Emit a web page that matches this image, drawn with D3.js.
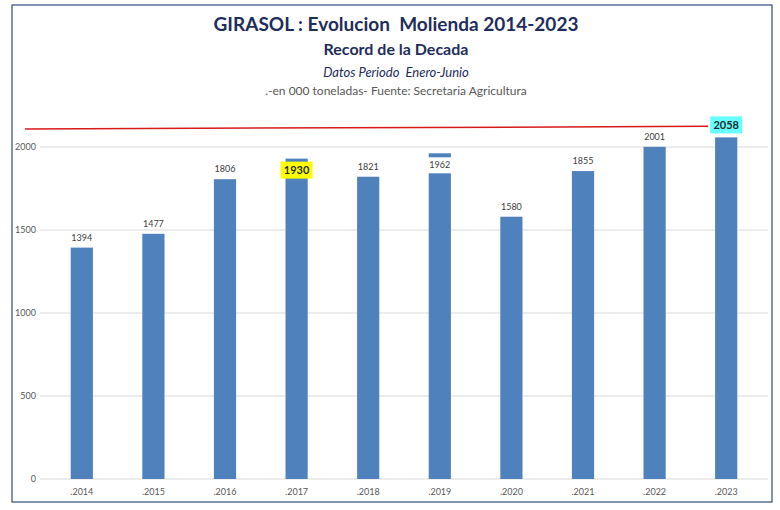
<!DOCTYPE html>
<html>
<head>
<meta charset="utf-8">
<script src="https://cdn.jsdelivr.net/npm/d3@7"></script>
<style>
  body { margin: 0; background: #fff; }
  text { font-family: Lato, "Open Sans", sans-serif; white-space: pre; }
</style>
</head>
<body>
<div id="chart"></div>
<script>
// GIRASOL molienda chart

// data
const years = [".2014", ".2015", ".2016", ".2017", ".2018", ".2019", ".2020", ".2021", ".2022", ".2023"];
const molienda = [1394, 1477, 1806, 1930, 1821, 1962, 1580, 1855, 2001, 2058];
const yTicks = [0, 500, 1000, 1500, 2000];
// label highlight per year (null = plain label)
const labelFill = [null, null, null, "#ffff00", null, "#ffffff", null, null, null, "#66ffff"];

const W = 780, H = 510;
const margin = { top: 147, bottom: 30, left: 46, right: 16 };
const width = W - margin.left - margin.right;
const height = H - margin.top - margin.bottom;

const svg = d3.select("#chart").append("svg")
  .attr("width", W)
  .attr("height", H);

// frame
svg.append("rect")
  .attr("x", 12).attr("y", 5)
  .attr("width", 760).attr("height", 497)
  .attr("fill", "none")
  .attr("stroke", "#2f4b7c")
  .attr("stroke-width", 1.2);

// titles
const titles = [
  { t: "GIRASOL : Evolucion  Molienda 2014-2023", y: 31, size: 19, weight: "bold", style: "normal", color: "#1f2d5c" },
  { t: "Record de la Decada", y: 55, size: 16, weight: "bold", style: "normal", color: "#1f2d5c" },
  { t: "Datos Periodo  Enero-Junio", y: 77, size: 13, weight: "normal", style: "italic", color: "#1f2d5c" },
  { t: ".-en 000 toneladas- Fuente: Secretaria Agricultura", y: 95, size: 12, weight: "normal", style: "normal", color: "#595959" }
];
svg.selectAll(".title").data(titles).join("text")
  .attr("class", "title")
  .attr("x", 396)
  .attr("y", d => d.y)
  .attr("text-anchor", "middle")
  .attr("font-size", d => d.size)
  .attr("font-weight", d => d.weight)
  .attr("font-style", d => d.style)
  .attr("fill", d => d.color)
  .text(d => d.t);

const g = svg.append("g")
  .attr("transform", `translate(${margin.left},${margin.top})`);

const x = d3.scaleBand().domain(years).range([0, width - 2]).paddingInner(0.69).paddingOuter(0.345);
const y = d3.scaleLinear().domain([0, 2000]).range([height - 1, 0]);

// gridlines
g.append("g").selectAll("line").data(yTicks).join("line")
  .attr("x1", -6).attr("x2", width + 4)
  .attr("y1", d => y(d)).attr("y2", d => y(d))
  .attr("stroke", "#d9d9d9")
  .attr("stroke-width", 1);

// y axis labels
g.append("g").selectAll("text").data(yTicks).join("text")
  .attr("x", -10)
  .attr("y", d => y(d))
  .attr("dy", "0.35em")
  .attr("text-anchor", "end")
  .attr("font-size", 9)
  .attr("fill", "#595959")
  .text(d => d);

// x axis labels
g.append("g").selectAll("text").data(years).join("text")
  .attr("x", d => x(d) + x.bandwidth() / 2)
  .attr("y", y(0) + 16)
  .attr("text-anchor", "middle")
  .attr("font-size", 9)
  .attr("fill", "#595959")
  .text(d => d);

// bars
g.append("g").selectAll("rect").data(molienda).join("rect")
  .attr("x", (d, i) => x(years[i]))
  .attr("y", d => y(d))
  .attr("width", x.bandwidth())
  .attr("height", d => y(0) - y(d))
  .attr("fill", "#4f81bd");

// value labels
const labels = molienda.map((v, i) => ({ v, i, fill: labelFill[i], big: i === 3 || i === 9 }));

const lbl = g.append("g").selectAll("g").data(labels).join("g")
  .attr("transform", d => {
    const cx = x(years[d.i]) + x.bandwidth() / 2;
    let cy = y(d.v) - 10;
    if (d.i === 3) cy = y(d.v) + 12;
    if (d.i === 5) cy = y(d.v) + 12;
    if (d.i === 9) cy = y(d.v) - 12;
    return `translate(${cx},${cy})`;
  });

lbl.filter(d => d.fill !== null).append("rect")
  .attr("x", d => d.big ? -16 : -14)
  .attr("y", d => d.big ? -9 : -8)
  .attr("width", d => d.big ? 32 : 28)
  .attr("height", d => d.big ? 17 : 16)
  .attr("fill", d => d.fill);

lbl.append("text")
  .attr("text-anchor", "middle")
  .attr("dy", "0.35em")
  .attr("font-size", d => d.big ? 11 : 9)
  .attr("font-weight", d => d.big ? "bold" : "normal")
  .attr("fill", d => d.big ? "#1f2d2d" : "#404040")
  .text(d => d.v);

// red record line towards 2023 label
const recEnd = margin.left + x(years[9]) + x.bandwidth() / 2 - 18;
svg.append("line")
  .attr("x1", 25).attr("y1", 129)
  .attr("x2", recEnd).attr("y2", margin.top + y(molienda[9]) - 11)
  .attr("stroke", "#d91a1a")
  .attr("stroke-width", 1.5);
</script>
</body>
</html>
